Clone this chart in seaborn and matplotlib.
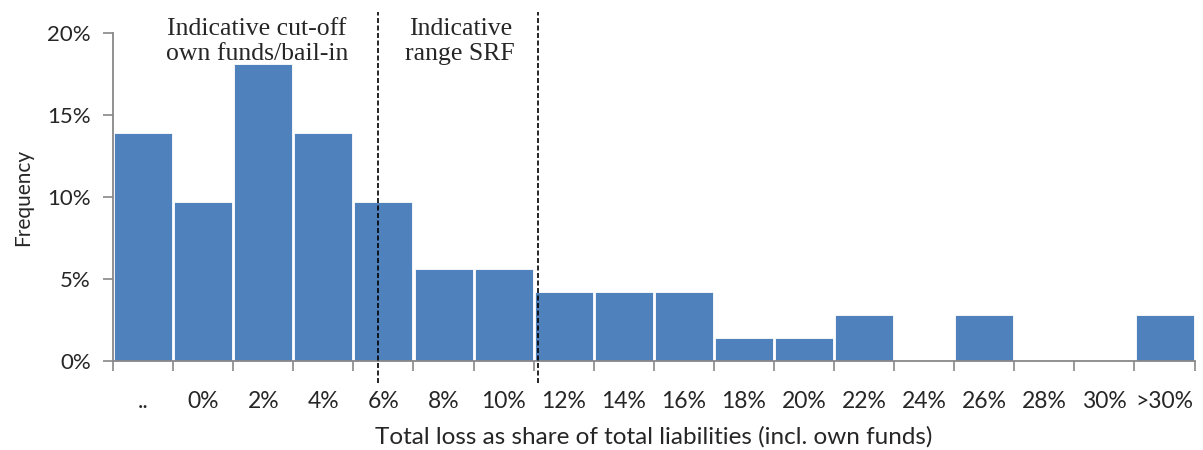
import numpy as np
import pandas as pd
import matplotlib
matplotlib.use('Agg')
import matplotlib.pyplot as plt
import seaborn as sns
from matplotlib.ticker import FuncFormatter

# data
categories = ['..', '0%', '2%', '4%', '6%', '8%', '10%', '12%', '14%', '16%',
              '18%', '20%', '22%', '24%', '26%', '28%', '30%', '>30%']
frequency = [13.9, 9.7, 18.1, 13.9, 9.7, 5.6, 5.6, 4.2, 4.2, 4.2,
             1.4, 1.4, 2.8, 0.0, 2.8, 0.0, 0.0, 2.8]
yticks = [0, 5, 10, 15, 20]

sns.set_theme(style='white')
plt.rcParams['font.family'] = ['Lato', 'DejaVu Sans']

df = pd.DataFrame({'bin': categories, 'freq': frequency})

fig = plt.figure(figsize=(12.03, 4.5), dpi=100)
ax = fig.add_axes([0.094, 0.198, 0.899, 0.728])

sns.barplot(data=df, x='bin', y='freq', color='#4F81BD', saturation=1,
            width=0.965, edgecolor='white', linewidth=0.6, ax=ax)

grey = '#888888'
ax.set_xlim(-0.5, len(categories) - 0.5)
ax.set_ylim(0, 20)
ax.set_yticks(yticks)
ax.yaxis.set_major_formatter(FuncFormatter(lambda v, p: f'{v:.0f}%'))
ax.set_xticks(range(len(categories)))
ax.set_xticklabels(categories)
ax.set_xticks(np.arange(-0.5, len(categories)), minor=True)

ax.tick_params(axis='x', which='major', length=0, pad=22, labelsize=16.5)
ax.tick_params(axis='x', which='minor', length=7, width=1.2, color=grey, direction='out', bottom=True)
ax.tick_params(axis='y', length=7, width=1.2, color=grey, direction='out', left=True, labelsize=16, pad=9)

for s in ['top', 'right']:
    ax.spines[s].set_visible(False)
for s in ['left', 'bottom']:
    ax.spines[s].set_color(grey)
    ax.spines[s].set_linewidth(1.3)

ax.set_ylabel('Frequency', fontsize=15, labelpad=10)
ax.set_xlabel('Total loss as share of total liabilities (incl. own funds)', fontsize=17.5, labelpad=10)

# indicative range markers
trans = ax.get_xaxis_transform()
for xv in [3.907, 6.571]:
    ax.plot([xv, xv], [-0.067, 1.065], transform=trans, color='black',
            linestyle=(0, (3, 1.5)), linewidth=1.2, clip_on=False, zorder=5)

serif = ['Liberation Serif', 'DejaVu Serif']
ax.text(1.893, 0.975, 'Indicative cut-off\nown funds/bail-in', transform=trans,
        ha='center', va='center', fontsize=18.5, family=serif, linespacing=1.15)
ax.text(5.278, 0.975, 'Indicative\nrange SRF', transform=trans,
        ha='center', va='center', fontsize=18.5, family=serif, linespacing=1.15)

fig.savefig('out.png', dpi=100)
